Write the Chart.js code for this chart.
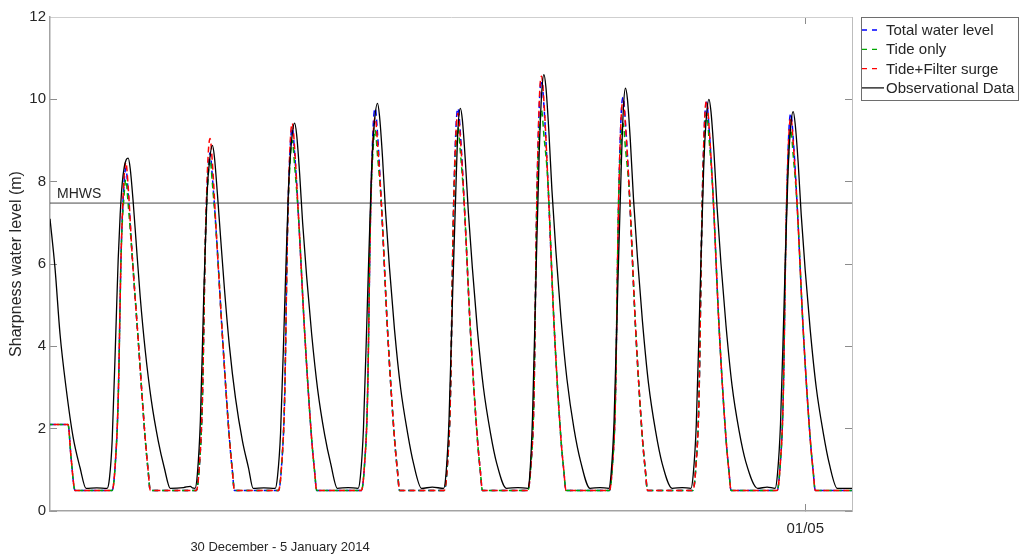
<!DOCTYPE html>
<html>
<head>
<meta charset="utf-8">
<title>Sharpness water level</title>
<script src="https://cdn.jsdelivr.net/npm/chart.js@4.4.1/dist/chart.umd.min.js"></script>
<style>
  html, body { margin: 0; padding: 0; background: #fff; }
  #wrap { width: 1020px; height: 556px; }
</style>
</head>
<body>
<div id="wrap"><canvas id="tideChart" width="1020" height="556"></canvas></div>
<script>
/* ---------- data (hours from start of window, metres) ---------- */
const xMin = 0, xMax = 120;
const dateTickHour = 113;          // 01/05 00:00
const dateTickLabel = '01/05';
const mhwsLevel = 7.48;

const obsTime = [
  0, 0.75, 1.5, 2.4, 3.45, 4.5, 5.4, 7.0,
  8.55, 8.9, 9.3, 9.9, 10.2, 10.5, 10.8, 11.1, 11.4, 11.7, 12.0, 12.45, 12.9, 13.5, 14.25, 15.15, 16.2, 17.1, 18.0, 20.0, 21.0, 21.3,
  21.7, 22.05, 22.5, 23.0, 23.5, 23.9, 24.3, 24.6, 25.05, 25.5, 26.1, 26.85, 27.75, 28.8, 29.7, 30.4, 32.0,
  33.7, 34.05, 34.5, 35.1, 35.7, 36.15, 36.6, 36.9, 37.35, 37.8, 38.4, 39.15, 40.05, 41.1, 42.0, 43.0, 44.6,
  46.1, 46.45, 46.9, 47.5, 48.1, 48.55, 49.0, 49.3, 49.75, 50.2, 50.8, 51.55, 52.45, 53.5, 54.4, 55.6, 57.2,
  58.9, 59.25, 59.7, 60.25, 60.8, 61.05, 61.4, 61.7, 62.15, 62.6, 63.2, 63.95, 64.85, 65.9, 66.85, 68.3, 70.0,
  71.5, 71.8, 72.2, 72.7, 73.2, 73.55, 73.9, 74.2, 74.65, 75.1, 75.7, 76.45, 77.35, 78.4, 79.4, 80.8, 82.3,
  83.6, 83.95, 84.4, 84.95, 85.5, 85.8, 86.1, 86.4, 86.85, 87.3, 87.9, 88.65, 89.55, 90.6, 91.6, 93.1, 94.6,
  95.9, 96.25, 96.7, 97.25, 97.8, 98.2, 98.6, 98.9, 99.35, 99.8, 100.4, 101.15, 102.05, 103.1, 104.1, 105.9, 107.3,
  108.5, 108.85, 109.3, 109.85, 110.4, 110.8, 111.2, 111.5, 111.95, 112.4, 113.0, 113.75, 114.65, 115.7, 116.6, 117.8, 120
];
const obsLevel = [
  7.1, 5.9, 4.3, 3.0, 1.8, 1.05, 0.55, 0.56,
  0.55, 0.8, 1.7, 4.6, 6.1, 7.2, 7.95, 8.35, 8.53, 8.57, 8.32, 7.5, 6.5, 5.2, 3.9, 2.7, 1.7, 1.05, 0.55, 0.57, 0.6, 0.56,
  0.55, 0.9, 2.2, 5.2, 7.7, 8.55, 8.88, 8.6, 7.7, 6.7, 5.4, 4.0, 2.75, 1.7, 1.05, 0.55, 0.56,
  0.55, 0.85, 1.9, 4.9, 7.9, 9.0, 9.42, 9.15, 8.2, 7.0, 5.7, 4.3, 2.95, 1.85, 1.15, 0.55, 0.57,
  0.55, 0.85, 2.0, 5.1, 8.2, 9.45, 9.9, 9.6, 8.6, 7.3, 5.9, 4.4, 3.0, 1.9, 1.15, 0.55, 0.58,
  0.55, 0.9, 2.2, 5.3, 8.2, 9.3, 9.78, 9.5, 8.5, 7.25, 5.9, 4.4, 3.0, 1.9, 1.15, 0.55, 0.57,
  0.55, 0.9, 2.3, 5.6, 8.7, 10.1, 10.6, 10.3, 9.2, 7.8, 6.3, 4.7, 3.2, 2.0, 1.2, 0.55, 0.57,
  0.55, 0.9, 2.2, 5.4, 8.5, 9.8, 10.27, 10.0, 8.95, 7.6, 6.15, 4.6, 3.1, 1.95, 1.15, 0.55, 0.57,
  0.55, 0.9, 2.1, 5.2, 8.3, 9.55, 10.0, 9.7, 8.7, 7.4, 6.0, 4.5, 3.05, 1.95, 1.2, 0.55, 0.58,
  0.55, 0.9, 2.1, 5.1, 8.1, 9.3, 9.7, 9.4, 8.45, 7.2, 5.85, 4.4, 3.0, 1.9, 1.15, 0.55, 0.55
];

const modelTime = [
  0, 2.7, 3.15, 3.75,
  9.3, 9.75, 10.2, 10.65, 11.05, 11.35, 11.7, 12.3, 13.2, 14.25, 14.7, 15.0,
  21.9, 22.35, 22.8, 23.25, 23.65, 23.95, 24.3, 24.9, 25.8, 26.85, 27.3, 27.6,
  34.2, 34.65, 35.1, 35.55, 35.95, 36.25, 36.6, 37.2, 38.1, 39.15, 39.6, 39.9,
  46.6, 47.05, 47.5, 47.95, 48.35, 48.65, 49.0, 49.6, 50.5, 51.55, 52.0, 52.3,
  59.0, 59.45, 59.9, 60.35, 60.75, 61.05, 61.4, 62.0, 62.9, 63.95, 64.4, 64.7,
  71.5, 71.95, 72.4, 72.85, 73.25, 73.55, 73.9, 74.5, 75.4, 76.45, 76.9, 77.2,
  83.7, 84.15, 84.6, 85.05, 85.45, 85.75, 86.1, 86.7, 87.6, 88.65, 89.1, 89.4,
  96.2, 96.65, 97.1, 97.55, 97.95, 98.25, 98.6, 99.2, 100.1, 101.15, 101.6, 101.9,
  108.8, 109.25, 109.7, 110.15, 110.55, 110.85, 111.2, 111.8, 112.7, 113.75, 114.2, 114.5,
  120
];
const totalLevel = [
  2.1, 2.1, 1.3, 0.5,
  0.5, 1.1, 2.7, 6.3, 7.88, 8.33, 7.73, 6.2, 4.15, 1.75, 0.95, 0.5,
  0.5, 1.1, 2.7, 6.6, 8.25, 8.7, 8.1, 6.7, 4.25, 1.75, 0.95, 0.5,
  0.5, 1.1, 2.7, 6.9, 8.85, 9.3, 8.7, 7.1, 4.35, 1.75, 0.95, 0.5,
  0.5, 1.1, 2.7, 7.1, 9.33, 9.78, 9.18, 7.4, 4.4, 1.75, 0.95, 0.5,
  0.5, 1.1, 2.7, 7.1, 9.33, 9.78, 9.18, 7.4, 4.4, 1.75, 0.95, 0.5,
  0.5, 1.1, 2.7, 7.6, 10.01, 10.46, 9.86, 8.0, 4.6, 1.75, 0.95, 0.5,
  0.5, 1.1, 2.7, 7.3, 9.6, 10.05, 9.45, 7.7, 4.5, 1.75, 0.95, 0.5,
  0.5, 1.1, 2.7, 7.2, 9.48, 9.93, 9.33, 7.7, 4.5, 1.75, 0.95, 0.5,
  0.5, 1.1, 2.7, 7.0, 9.21, 9.66, 9.06, 7.4, 4.4, 1.75, 0.95, 0.5,
  0.5
];
const tideLevel = [
  2.1, 2.1, 1.3, 0.5,
  0.5, 1.1, 2.7, 6.3, 7.6, 8.05, 7.45, 6.2, 4.15, 1.75, 0.95, 0.5,
  0.5, 1.1, 2.7, 6.6, 8.1, 8.55, 7.95, 6.7, 4.25, 1.75, 0.95, 0.5,
  0.5, 1.1, 2.7, 6.9, 8.55, 9.0, 8.4, 7.1, 4.35, 1.75, 0.95, 0.5,
  0.5, 1.1, 2.7, 7.1, 8.8, 9.25, 8.65, 7.4, 4.4, 1.75, 0.95, 0.5,
  0.5, 1.1, 2.7, 7.1, 8.87, 9.32, 8.72, 7.4, 4.4, 1.75, 0.95, 0.5,
  0.5, 1.1, 2.7, 7.6, 9.28, 9.73, 9.13, 8.0, 4.6, 1.75, 0.95, 0.5,
  0.5, 1.1, 2.7, 7.3, 8.97, 9.42, 8.82, 7.7, 4.5, 1.75, 0.95, 0.5,
  0.5, 1.1, 2.7, 7.2, 9.21, 9.66, 9.06, 7.7, 4.5, 1.75, 0.95, 0.5,
  0.5, 1.1, 2.7, 7.0, 8.8, 9.25, 8.65, 7.4, 4.4, 1.75, 0.95, 0.5,
  0.5
];
const surgeLevel = [
  2.1, 2.1, 1.3, 0.5,
  0.5, 1.1, 2.7, 6.3, 8.02, 8.47, 7.87, 6.2, 4.15, 1.75, 0.95, 0.5,
  0.5, 1.1, 2.7, 6.6, 8.6, 9.05, 8.45, 6.7, 4.25, 1.75, 0.95, 0.5,
  0.5, 1.1, 2.7, 6.9, 8.97, 9.42, 8.82, 7.1, 4.35, 1.75, 0.95, 0.5,
  0.5, 1.1, 2.7, 7.1, 9.11, 9.56, 8.96, 7.4, 4.4, 1.75, 0.95, 0.5,
  0.5, 1.1, 2.7, 7.1, 9.21, 9.66, 9.06, 7.4, 4.4, 1.75, 0.95, 0.5,
  0.5, 1.1, 2.7, 7.6, 10.11, 10.56, 9.96, 8.0, 4.6, 1.75, 0.95, 0.5,
  0.5, 1.1, 2.7, 7.3, 9.53, 9.98, 9.38, 7.7, 4.5, 1.75, 0.95, 0.5,
  0.5, 1.1, 2.7, 7.2, 9.52, 9.97, 9.37, 7.7, 4.5, 1.75, 0.95, 0.5,
  0.5, 1.1, 2.7, 7.0, 9.11, 9.56, 8.96, 7.4, 4.4, 1.75, 0.95, 0.5,
  0.5
];

const seriesNames = ['Total water level', 'Tide only', 'Tide+Filter surge', 'Observational Data'];
const seriesColors = ['#0000ff', '#00a800', '#ff0000', '#000000'];

/* ---------- helpers ---------- */
const toPoints = (t, v) => t.map((x, i) => ({x, y: v[i]}));
const FONT = "'Liberation Sans', Arial, sans-serif";
const TXT = '#262626';

// fixed axis sizes so the plot box lands where we want it
// (tick label padding would otherwise push the plot top down)
const fixWidth = w => s => { s.width = w; s.paddingTop = 0; s.paddingBottom = 0; };
const fixHeight = h => s => { s.height = h; };
const onlyTick = (v) => s => { s.ticks = [{value: v}]; };

/* ---------- extra drawing: MHWS label, x title, legend box ---------- */
const decorations = {
  id: 'decorations',
  afterDraw(chart){
    const {ctx, scales} = chart;
    ctx.save();
    // MHWS label
    ctx.fillStyle = TXT;
    ctx.font = '14px ' + FONT;
    ctx.textAlign = 'left';
    ctx.textBaseline = 'alphabetic';
    ctx.fillText('MHWS', 57, scales.y.getPixelForValue(mhwsLevel) - 5);

    // x axis title
    ctx.font = '13px ' + FONT;
    ctx.textAlign = 'center';
    ctx.textBaseline = 'middle';
    ctx.fillText('30 December - 5 January 2014', 280, 547);

    // legend
    const lx = 861.5, ly = 17.5, lw = 157, lh = 83;
    ctx.fillStyle = '#fff';
    ctx.fillRect(lx, ly, lw, lh);
    ctx.strokeStyle = '#6e6e6e';
    ctx.lineWidth = 1;
    ctx.strokeRect(lx, ly, lw, lh);
    ctx.font = '15px ' + FONT;
    ctx.textAlign = 'left';
    seriesNames.forEach((name, i) => {
      const yy = 30 + i * 19.3;
      ctx.beginPath();
      ctx.strokeStyle = seriesColors[i];
      if (i < 3) { ctx.setLineDash([5, 5]); ctx.lineWidth = 1.3; ctx.moveTo(862, yy); ctx.lineTo(882, yy); }
      else { ctx.setLineDash([]); ctx.lineWidth = 1.2; ctx.moveTo(862, yy); ctx.lineTo(884, yy); }
      ctx.stroke();
      ctx.setLineDash([]);
      ctx.fillStyle = TXT;
      ctx.fillText(name, 886, yy + 1);
    });
    ctx.restore();
  }
};

/* ---------- chart ---------- */
const dashed = (label, color, t, v, offset, order) => ({
  label, data: toPoints(t, v), borderColor: color, borderWidth: 1.5,
  borderDash: [6, 4], borderDashOffset: offset, pointRadius: 0,
  cubicInterpolationMode: 'monotone', order
});

const ctx = document.getElementById('tideChart').getContext('2d');
new Chart(ctx, {
  type: 'line',
  data: {
    datasets: [
      {label: 'Observational Data', data: toPoints(obsTime, obsLevel), borderColor: '#000', borderWidth: 1.3,
       pointRadius: 0, cubicInterpolationMode: 'monotone', order: 1},
      dashed('Tide+Filter surge', '#ff0000', modelTime, surgeLevel, 6.5, 2),
      dashed('Tide only', '#00a800', modelTime, tideLevel, 3.3, 3),
      dashed('Total water level', '#0000ff', modelTime, totalLevel, 0, 4),
      {label: 'MHWS', data: [{x: xMin, y: mhwsLevel}, {x: xMax, y: mhwsLevel}], borderColor: '#4a4a4a',
       borderWidth: 1, pointRadius: 0, order: 5}
    ]
  },
  options: {
    responsive: false,
    animation: false,
    layout: {padding: {left: 0, top: 0, right: 168, bottom: 0}},
    plugins: {legend: {display: false}, tooltip: {enabled: false}},
    scales: {
      x: {
        type: 'linear', position: 'bottom', min: xMin, max: xMax,
        afterBuildTicks: onlyTick(dateTickHour), afterFit: fixHeight(45),
        ticks: {callback: () => dateTickLabel, color: TXT, font: {family: FONT, size: 15}, padding: 16, maxRotation: 0},
        grid: {drawOnChartArea: false, tickLength: -7, color: '#8c8c8c'},
        border: {color: '#a3a3a3', width: 1.5}
      },
      xTop: {
        type: 'linear', position: 'top', min: xMin, max: xMax,
        afterBuildTicks: onlyTick(dateTickHour), afterFit: fixHeight(17),
        ticks: {display: false},
        grid: {drawOnChartArea: false, tickLength: -7, color: '#8c8c8c'},
        border: {color: '#cfcfcf', width: 1}
      },
      y: {
        type: 'linear', position: 'left', min: 0, max: 12,
        afterFit: fixWidth(50),
        ticks: {stepSize: 2, color: TXT, font: {family: FONT, size: 15}, padding: 11},
        grid: {drawOnChartArea: false, tickLength: -7, color: '#8c8c8c'},
        border: {color: '#a3a3a3', width: 1.5},
        title: {display: true, text: 'Sharpness water level (m)', color: TXT,
                font: {family: FONT, size: 16}, padding: {top: 7, bottom: 0}}
      },
      yRight: {
        type: 'linear', position: 'right', min: 0, max: 12,
        afterFit: fixWidth(0),
        ticks: {stepSize: 2, display: false},
        grid: {drawOnChartArea: false, tickLength: -7, color: '#8c8c8c'},
        border: {color: '#bdbdbd', width: 1}
      }
    }
  },
  plugins: [decorations]
});
</script>
</body>
</html>
